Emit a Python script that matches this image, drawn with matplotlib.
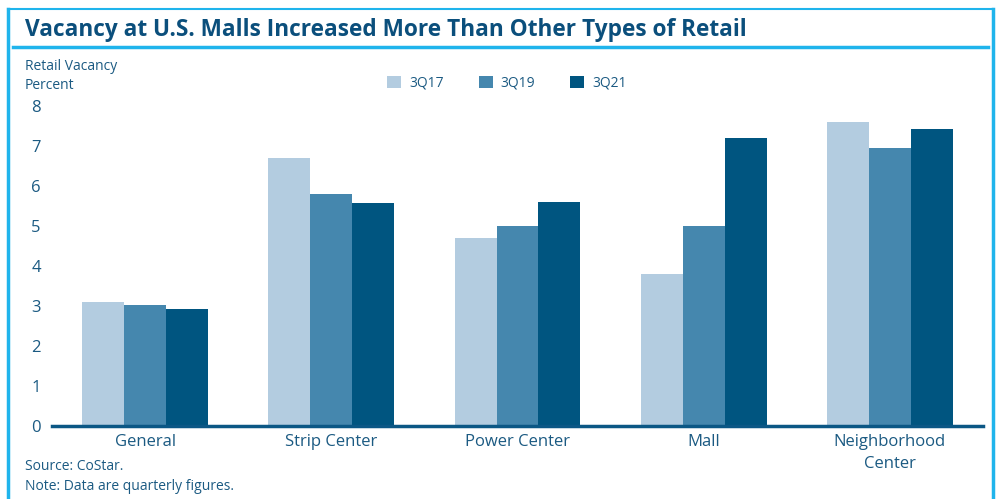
import matplotlib.pyplot as plt
import numpy as np
from matplotlib.lines import Line2D

categories = ["General", "Strip Center", "Power Center", "Mall", "Neighborhood\nCenter"]
series_names = ["3Q17", "3Q19", "3Q21"]
vac_3q17 = [3.1, 6.7, 4.7, 3.8, 7.6]
vac_3q19 = [3.03, 5.8, 5.0, 5.0, 6.95]
vac_3q21 = [2.93, 5.58, 5.6, 7.2, 7.43]

colors = ["#b3cce0", "#4587ae", "#005580"]
text_col = "#1b5a82"
frame_col = "#1fb4ec"

plt.rcParams['font.family'] = ['Open Sans', 'DejaVu Sans']

fig = plt.figure(figsize=(10, 4.99), dpi=100)
W, H = 1000, 499

# axes placed in pixel coords
ax_left, ax_right, ax_bottom, ax_top = 52, 983, 426, 106
ax = fig.add_axes([ax_left / W, 1 - ax_bottom / H, (ax_right - ax_left) / W, (ax_bottom - ax_top) / H])

x = np.arange(len(categories))
bw = 0.225
for i, (vals, name) in enumerate(zip([vac_3q17, vac_3q19, vac_3q21], series_names)):
    ax.bar(x + (i - 1) * bw, vals, width=bw, color=colors[i], label=name, zorder=2)

ax.set_xlim(-0.5, 4.5)
ax.set_ylim(0, 8)
ax.set_yticks(range(0, 9))
ax.set_xticks(x)
ax.set_xticklabels(categories, fontsize=12, color=text_col, linespacing=1.45)
ax.tick_params(axis='y', length=0, labelsize=12, labelcolor=text_col, pad=8)
ax.tick_params(axis='x', length=0, pad=6)
for s in ["top", "right", "left"]:
    ax.spines[s].set_visible(False)
ax.spines["bottom"].set_color("#0b5785")
ax.spines["bottom"].set_linewidth(2.5)
ax.spines["bottom"].set_zorder(3)

# legend
leg = fig.legend(loc="center", bbox_to_anchor=(507 / W, 1 - 83 / H), ncol=3, frameon=False,
                 fontsize=10, handlelength=1.0, handleheight=1.0, columnspacing=2.5,
                 handletextpad=0.6, labelcolor=text_col)

# frame and title rule
fig.add_artist(Line2D([8 / W, 8 / W], [0, 1 - 9 / H], color=frame_col, lw=2.5))
fig.add_artist(Line2D([8 / W, 993 / W], [1 - 9 / H, 1 - 9 / H], color=frame_col, lw=1.5))
fig.add_artist(Line2D([993 / W, 993 / W], [0, 1 - 9 / H], color=frame_col, lw=2.5))
fig.add_artist(Line2D([13 / W, 988 / W], [1 - 47 / H, 1 - 47 / H], color=frame_col, lw=2.5))

fig.text(25 / W, 1 - 30 / H, "Vacancy at U.S. Malls Increased More Than Other Types of Retail",
         fontsize=16.3, fontweight="bold", color="#0b4f7c", va="center", ha="left")
fig.text(25 / W, 1 - 66 / H, "Retail Vacancy", fontsize=10, color=text_col, va="center")
fig.text(25 / W, 1 - 85 / H, "Percent", fontsize=10, color=text_col, va="center")
fig.text(25 / W, 1 - 466 / H, "Source: CoStar.", fontsize=10, color=text_col, va="center")
fig.text(25 / W, 1 - 486 / H, "Note: Data are quarterly figures.", fontsize=10, color=text_col, va="center")

fig.savefig("out.png", dpi=100)
